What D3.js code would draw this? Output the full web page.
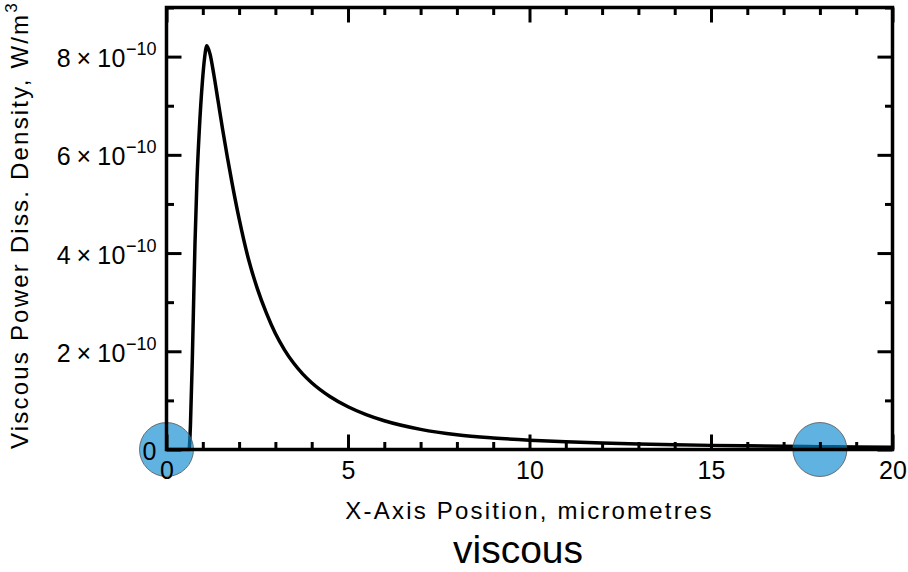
<!DOCTYPE html>
<html>
<head>
<meta charset="utf-8">
<script src="https://cdn.jsdelivr.net/npm/d3@7"></script>
<style>
  body { margin: 0; background: #fff; }
  text { font-family: "Liberation Sans", Arial, Helvetica, sans-serif; fill: #000; }
</style>
</head>
<body>
<svg id="chart" width="908" height="572"></svg>
<script>
// Viscous power dissipation density along the x axis (micrometres, W/m^3)
const positionMicrons = [0, 0.3, 0.62, 0.66, 0.71, 0.75, 0.785, 0.84, 0.90, 0.99, 1.05, 1.11, 1.20, 1.30, 1.42, 1.55, 1.80, 2.0, 2.25, 2.5, 2.75, 3.0, 3.25, 3.5, 3.75, 4.0, 4.5, 5.0, 5.5, 6.0, 7.0, 8.0, 9.0, 10, 11, 12, 13, 14, 15, 16, 17, 18, 19, 20];
const powerDensity = [0, 0, 0, 0.5e-10, 1.8e-10, 3.1e-10, 4.2e-10, 5.5e-10, 6.45e-10, 7.5e-10, 7.98e-10, 8.22e-10, 8.05e-10, 7.65e-10, 7.1e-10, 6.5e-10, 5.45e-10, 4.7e-10, 3.9e-10, 3.28e-10, 2.78e-10, 2.36e-10, 2.03e-10, 1.76e-10, 1.54e-10, 1.36e-10, 1.08e-10, 0.87e-10, 0.71e-10, 0.585e-10, 0.41e-10, 0.30e-10, 0.235e-10, 0.19e-10, 0.158e-10, 0.133e-10, 0.113e-10, 0.097e-10, 0.084e-10, 0.074e-10, 0.065e-10, 0.058e-10, 0.051e-10, 0.046e-10];

// Highlighted positions on the axis
const markerPositions = [0, 18];
const markerValues = [0, 0];

// Axis ticks
const xMajorTicks = [0, 5, 10, 15, 20];
const xMinorTicks = [1, 2, 3, 4, 6, 7, 8, 9, 11, 12, 13, 14, 16, 17, 18, 19];
const yMajorTicks = [0, 2e-10, 4e-10, 6e-10, 8e-10];
const yMinorTicks = [1e-10, 3e-10, 5e-10, 7e-10, 9e-10];
const yTickMantissas = ["0", "2", "4", "6", "8"];
const yTickExponent = "\u221210";

const xLabel = "X-Axis Position, micrometres";
const yLabel = "Viscous Power Diss. Density, W/m";
const yLabelSup = "3";
const chartTitle = "viscous";

const svg = d3.select("#chart");
svg.append("rect").attr("width", 908).attr("height", 572).attr("fill", "#fff");

const x = d3.scaleLinear().domain([0, 20]).range([166.5, 892.5]);
const y = d3.scaleLinear().domain([0, 9e-10]).range([449.5, 7.5]);

// curve
const line = d3.line()
  .x((d, i) => x(positionMicrons[i]))
  .y((d, i) => y(powerDensity[i]))
  .curve(d3.curveMonotoneX);

svg.append("path")
  .attr("d", line(positionMicrons))
  .attr("fill", "none")
  .attr("stroke", "#000")
  .attr("stroke-width", 3.5)
  .attr("stroke-linejoin", "round");

// marker discs
svg.selectAll("circle.marker")
  .data(markerPositions)
  .join("circle")
  .attr("class", "marker")
  .attr("cx", d => x(d))
  .attr("cy", (d, i) => y(markerValues[i]))
  .attr("r", 27)
  .attr("fill", "#0a8ad0")
  .attr("fill-opacity", 0.65)
  .attr("stroke", "#555")
  .attr("stroke-opacity", 0.8)
  .attr("stroke-width", 1);

// frame
svg.append("rect")
  .attr("x", x(0)).attr("y", y(9e-10))
  .attr("width", x(20) - x(0)).attr("height", y(0) - y(9e-10))
  .attr("fill", "none").attr("stroke", "#000").attr("stroke-width", 3.5);

function styleAxis(g) {
  g.select(".domain").remove();
  g.selectAll(".tick line").attr("stroke", "#000").attr("stroke-width", 3);
}

const major = 15, minor = 7.5;

// bottom
const gBottom = svg.append("g").attr("transform", `translate(0,${y(0)})`);
gBottom.call(d3.axisBottom(x).tickValues(xMajorTicks).tickSize(-major).tickPadding(12).tickFormat(d3.format("d"))).call(styleAxis);
gBottom.selectAll("text").attr("font-size", 25).attr("font-family", null);
svg.append("g").attr("transform", `translate(0,${y(0)})`)
  .call(d3.axisBottom(x).tickValues(xMinorTicks).tickSize(-minor).tickFormat(() => "")).call(styleAxis);

// top
svg.append("g").attr("transform", `translate(0,${y(9e-10)})`)
  .call(d3.axisTop(x).tickValues(xMajorTicks).tickSize(-major).tickFormat(() => "")).call(styleAxis);
svg.append("g").attr("transform", `translate(0,${y(9e-10)})`)
  .call(d3.axisTop(x).tickValues(xMinorTicks).tickSize(-minor).tickFormat(() => "")).call(styleAxis);

// left
const gLeft = svg.append("g").attr("transform", `translate(${x(0)},0)`);
gLeft.call(d3.axisLeft(y).tickValues(yMajorTicks).tickSize(-major).tickPadding(10)).call(styleAxis);
gLeft.selectAll(".tick text").each(function(d, i) {
  const t = d3.select(this).text(null).attr("font-size", 25).attr("font-family", null).attr("dy", "0.4em");
  const m = yTickMantissas[i];
  if (m === "0") { t.text(m); return; }
  t.append("tspan").attr("letter-spacing", 0.5).text(m + "\u2009\u00d7\u200910");
  t.append("tspan").attr("dy", -12).attr("font-size", 18).text(yTickExponent);
});
svg.append("g").attr("transform", `translate(${x(0)},0)`)
  .call(d3.axisLeft(y).tickValues(yMinorTicks).tickSize(-minor).tickFormat(() => "")).call(styleAxis);

// right
svg.append("g").attr("transform", `translate(${x(20)},0)`)
  .call(d3.axisRight(y).tickValues(yMajorTicks).tickSize(-major).tickFormat(() => "")).call(styleAxis);
svg.append("g").attr("transform", `translate(${x(20)},0)`)
  .call(d3.axisRight(y).tickValues(yMinorTicks).tickSize(-minor).tickFormat(() => "")).call(styleAxis);

// axis titles
svg.append("text")
  .attr("x", (x(0) + x(20)) / 2).attr("y", 519)
  .attr("text-anchor", "middle").attr("font-size", 24).attr("letter-spacing", 2.2)
  .text(xLabel);

const yt = svg.append("text")
  .attr("transform", "translate(28,225) rotate(-90)")
  .attr("text-anchor", "middle").attr("font-size", 24).attr("letter-spacing", 2.2);
yt.append("tspan").text(yLabel);
yt.append("tspan").attr("dy", -11).attr("font-size", 17).text(yLabelSup);

svg.append("text")
  .attr("x", 518).attr("y", 563)
  .attr("text-anchor", "middle").attr("font-size", 39)
  .text(chartTitle);
</script>
</body>
</html>
